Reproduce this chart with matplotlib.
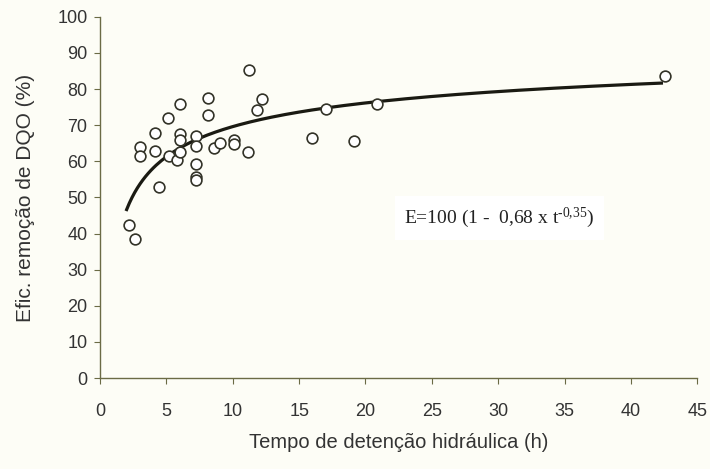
import numpy as np
import matplotlib.pyplot as plt

# tempo de detencao (h) e eficiencia de remocao de DQO (%)
tdh = [2.2, 2.6, 3.0, 3.0, 4.1, 4.1, 4.45, 5.1, 5.2, 5.8, 6.0, 6.0, 6.0, 6.0,
       7.2, 7.2, 7.2, 7.2, 7.25, 8.1, 8.1, 8.6, 9.0, 10.1, 10.1, 11.15, 11.25,
       11.8, 12.2, 16.0, 17.0, 19.1, 20.85, 42.6]
efic = [42.4, 38.4, 64.1, 61.5, 67.8, 62.8, 52.8, 72.1, 61.5, 60.4, 75.8, 67.5,
        65.9, 62.7, 67.0, 64.3, 59.3, 55.8, 54.8, 77.5, 72.7, 63.6, 65.0, 65.9,
        64.8, 62.6, 85.3, 74.2, 77.3, 66.5, 74.4, 65.7, 75.8, 83.5]

# modelo ajustado E = 100 (1 - 0,68 t^-0,35)
a_coef = 0.68
b_coef = 0.35
t_fit = np.linspace(2.0, 42.3, 200)
e_fit = 100 * (1 - a_coef * t_fit ** (-b_coef))

plt.rcParams['font.family'] = ['Liberation Sans', 'DejaVu Sans']
plt.rcParams['mathtext.fontset'] = 'custom'
plt.rcParams['mathtext.rm'] = 'Liberation Serif'
plt.rcParams['mathtext.it'] = 'Liberation Serif'

fig = plt.figure(figsize=(7.1, 4.69), dpi=100)
fig.patch.set_facecolor('#fdfdf6')
ax = fig.add_axes([0.141, 0.194, 0.841, 0.770])
ax.set_facecolor('#fdfdf6')

ax.plot(t_fit, e_fit, color='#1a1a12', lw=2.3, zorder=2)
ax.scatter(tdh, efic, s=60, facecolors='white', edgecolors='#333328',
           linewidths=1.2, zorder=3)

ax.text(30.1, 44.3, 'E=100 (1 -  0,68 x t$^{\\text{-0,35}}$)', fontsize=14,
        family='Liberation Serif', ha='center', va='center', color='#222',
        bbox=dict(facecolor='white', edgecolor='none', pad=7))

ax.set_xlim(0, 45)
ax.set_ylim(0, 100)
ax.set_xticks(range(0, 46, 5))
ax.set_yticks(range(0, 101, 10))
for s in ['top', 'right']:
    ax.spines[s].set_visible(False)
for s in ['left', 'bottom']:
    ax.spines[s].set_color('#6b6b45')
    ax.spines[s].set_linewidth(1.0)
ax.tick_params(colors='#6b6b45', labelcolor='#333333', labelsize=13,
               length=4)
ax.tick_params(axis='x', pad=14)
ax.tick_params(axis='y', pad=5)

ax.set_xlabel('Tempo de detenção hidráulica (h)', fontsize=14.5, color='#333333',
              labelpad=9)
ax.set_ylabel('Efic. remoção de DQO (%)', fontsize=15, color='#333333',
              labelpad=16)

plt.savefig('out.png', dpi=100, facecolor=fig.get_facecolor())
